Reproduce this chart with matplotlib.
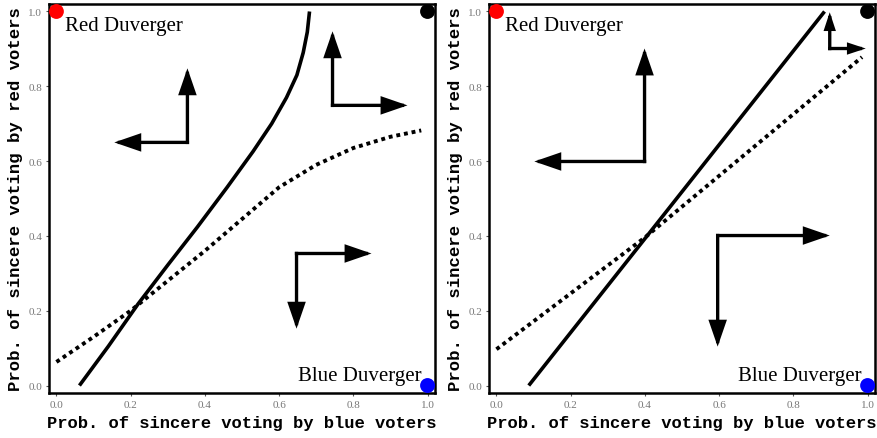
import matplotlib
matplotlib.use("Agg")
import matplotlib.pyplot as plt

# ---- data ----
ticks = [0.0, 0.2, 0.4, 0.6, 0.8, 1.0]
tick_labels = ["0.0", "0.2", "0.4", "0.6", "0.8", "1.0"]

left_solid_x = [0.062, 0.14, 0.22, 0.30, 0.38, 0.46, 0.53, 0.58, 0.62, 0.648, 0.665, 0.676, 0.682]
left_solid_y = [0.0, 0.105, 0.218, 0.322, 0.424, 0.53, 0.626, 0.70, 0.77, 0.83, 0.89, 0.945, 1.0]
left_dash_x = [0.0, 0.1, 0.2, 0.3, 0.4, 0.5, 0.6, 0.7, 0.8, 0.9, 0.983]
left_dash_y = [0.063, 0.13, 0.2, 0.28, 0.36, 0.445, 0.53, 0.59, 0.635, 0.665, 0.682]

right_solid_x = [0.087, 0.884]
right_solid_y = [0.0, 1.0]
right_dash_x = [0.0, 0.399, 0.985]
right_dash_y = [0.097, 0.395, 0.878]

# arrows: (corner, tip1, tip2)
left_arrows = [
    ((0.353, 0.65), (0.353, 0.848), (0.156, 0.65)),
    ((0.744, 0.749), (0.744, 0.947), (0.946, 0.749)),
    ((0.647, 0.353), (0.849, 0.353), (0.647, 0.152)),
]
right_arrows = [
    ((0.399, 0.599), (0.399, 0.901), (0.102, 0.599)),
    ((0.898, 0.901), (0.898, 0.998), (0.995, 0.901)),
    ((0.596, 0.401), (0.898, 0.401), (0.596, 0.104)),
]
right_small = [False, True, False]

points_x = [0.0, 1.0, 1.0]
points_y = [1.0, 1.0, 0.0]
points_c = ["#ff0000", "#000000", "#0000ff"]

fig = plt.figure(figsize=(8.78, 4.39), dpi=100)
ax1 = fig.add_axes([0.0558, 0.1025, 0.4396, 0.8861])
ax2 = fig.add_axes([0.557, 0.1025, 0.4396, 0.8861])

mono = ["Liberation Mono", "DejaVu Sans Mono"]
serif = ["Liberation Serif", "DejaVu Serif"]


def draw_arrow(ax, corner, t1, t2, small=False):
    lw = 2.4
    hw = 0.28 if small else 0.5
    hl = 0.85 if small else 1.45
    style = f"-|>,head_width={hw},head_length={hl}"
    for t in (t1, t2):
        ax.annotate("", xy=t, xytext=corner,
                    arrowprops=dict(arrowstyle=style, color="black", lw=lw,
                                    shrinkA=0, shrinkB=0, capstyle="projecting",
                                    joinstyle="miter"))


for ax, sx, sy, dx, dy, arrows, smalls in [
    (ax1, left_solid_x, left_solid_y, left_dash_x, left_dash_y, left_arrows, [False] * 3),
    (ax2, right_solid_x, right_solid_y, right_dash_x, right_dash_y, right_arrows, right_small),
]:
    ax.plot(sx, sy, color="black", lw=2.6, solid_capstyle="butt", solid_joinstyle="round")
    ax.plot(dx, dy, color="black", lw=2.8, linestyle=(0, (1.0, 1.0)), dash_capstyle="butt")
    for a, s in zip(arrows, smalls):
        draw_arrow(ax, *a, small=s)
    ax.scatter(points_x, points_y, s=115, c=points_c, zorder=5, clip_on=False, linewidths=0)
    ax.text(0.022, 0.963, "Red Duverger", family=serif, fontsize=15, va="center", ha="left")
    ax.text(0.984, 0.027, "Blue Duverger", family=serif, fontsize=15, va="center", ha="right")
    ax.set_xlim(-0.02, 1.02)
    ax.set_ylim(-0.02, 1.02)
    ax.set_xticks(ticks)
    ax.set_xticklabels(tick_labels)
    ax.set_yticks(ticks)
    ax.set_yticklabels(tick_labels)
    ax.tick_params(direction="out", length=2, width=0.8, labelsize=8,
                   colors="#555555", pad=3)
    for lbl in ax.get_xticklabels() + ax.get_yticklabels():
        lbl.set_family(serif)
        lbl.set_color("#777777")
    for sp in ax.spines.values():
        sp.set_linewidth(1.8)
    ax.set_xlabel("Prob. of sincere voting by blue voters", family=mono,
                  fontweight="bold", fontsize=12.3, labelpad=4)
    ax.set_ylabel("Prob. of sincere voting by red voters", family=mono,
                  fontweight="bold", fontsize=12.4, labelpad=4)

fig.savefig("out.png", dpi=100)
